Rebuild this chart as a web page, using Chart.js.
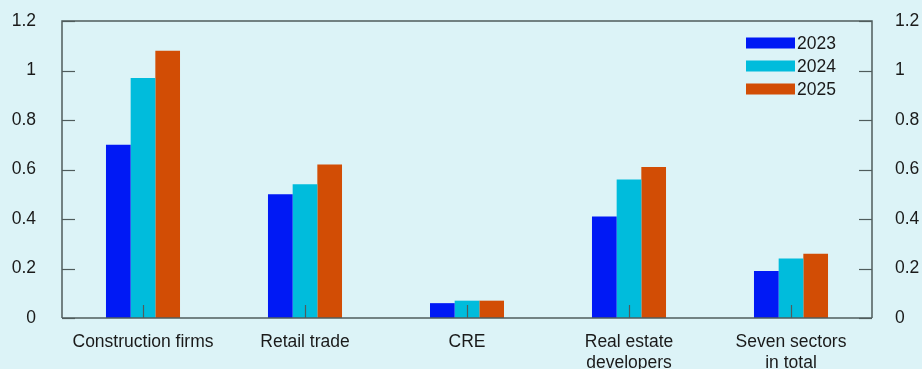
<!DOCTYPE html>
<html>
<head>
<meta charset="utf-8">
<script src="https://cdn.jsdelivr.net/npm/chart.js@4/dist/chart.umd.min.js"></script>
<style>
html,body{margin:0;padding:0;background:#dcf3f7;}
#wrap{width:922px;height:369px;}
</style>
</head>
<body>
<div id="wrap"><canvas id="c" width="922" height="369"></canvas></div>
<script>
const categories = [["Construction firms"], ["Retail trade"], ["CRE"], ["Real estate", "developers"], ["Seven sectors", "in total"]];
const seriesNames = ["2023", "2024", "2025"];
const values2023 = [0.70, 0.50, 0.06, 0.41, 0.19];
const values2024 = [0.97, 0.54, 0.07, 0.56, 0.24];
const values2025 = [1.08, 0.62, 0.07, 0.61, 0.26];
const yTickLabels = ["0", "0.2", "0.4", "0.6", "0.8", "1", "1.2"];

const colors = ["#0019f5", "#00bcdc", "#d24d05"];
const axisColor = "#4f5c5c";
const textColor = "#1a1a1a";
const FONT = "'Liberation Sans', Arial, sans-serif";
const FS = 17.5;

const fmt = (v) => {
  const i = Math.round(v / 0.2);
  return yTickLabels[i] !== undefined ? yTickLabels[i] : String(v);
};

const decor = {
  id: 'decor',
  beforeDraw(chart) {
    const ctx = chart.ctx;
    ctx.save();
    ctx.fillStyle = '#dcf3f7';
    ctx.fillRect(0, 0, chart.width, chart.height);
    ctx.restore();
  },
  afterDatasetsDraw(chart) {
    const ctx = chart.ctx;
    const a = chart.chartArea;
    const y = chart.scales.y, x = chart.scales.x;
    ctx.save();
    ctx.strokeStyle = axisColor;
    ctx.lineWidth = 1.5;
    ctx.beginPath();
    ctx.moveTo(a.left, a.bottom); ctx.lineTo(a.left, a.top); ctx.lineTo(a.right, a.top); ctx.lineTo(a.right, a.bottom);
    ctx.stroke();
    ctx.beginPath();
    ctx.moveTo(a.left, a.bottom); ctx.lineTo(a.right, a.bottom);
    ctx.stroke();
    ctx.lineWidth = 1.2;
    y.ticks.forEach(t => {
      const py = Math.round(y.getPixelForValue(t.value)) + 0.5;
      ctx.beginPath(); ctx.moveTo(a.left, py); ctx.lineTo(a.left + 13, py); ctx.stroke();
      ctx.beginPath(); ctx.moveTo(a.right - 13, py); ctx.lineTo(a.right, py); ctx.stroke();
    });
    x.ticks.forEach((t, i) => {
      const px = Math.round(x.getPixelForTick(i)) + 0.5;
      ctx.beginPath(); ctx.moveTo(px, a.bottom); ctx.lineTo(px, a.bottom - 13); ctx.stroke();
    });
    ctx.font = FS + "px " + FONT;
    ctx.textBaseline = 'middle';
    chart.data.datasets.forEach((ds, i) => {
      const cy = 43 + i * 23;
      ctx.fillStyle = ds.backgroundColor;
      ctx.fillRect(746, cy - 5.5, 49, 11);
      ctx.fillStyle = textColor;
      ctx.fillText(ds.label, 797, cy + 1);
    });
    ctx.restore();
  }
};

const fitY = (w) => (s) => { s.width = w; s.paddingTop = 0; s.paddingBottom = 0; };

new Chart(document.getElementById('c'), {
  type: 'bar',
  data: {
    labels: categories,
    datasets: [
      { label: seriesNames[0], data: values2023, backgroundColor: colors[0] },
      { label: seriesNames[1], data: values2024, backgroundColor: colors[1] },
      { label: seriesNames[2], data: values2025, backgroundColor: colors[2] }
    ]
  },
  options: {
    responsive: false,
    animation: false,
    devicePixelRatio: 1,
    datasets: { bar: { barPercentage: 1, categoryPercentage: 0.457, borderWidth: 0 } },
    layout: { padding: { top: 21, left: 0, right: 0, bottom: 0 } },
    plugins: { legend: { display: false }, tooltip: { enabled: false } },
    scales: {
      x: {
        grid: { display: false, drawTicks: false },
        border: { display: false },
        ticks: { color: textColor, font: { family: FONT, size: FS, lineHeight: 1.22 }, padding: 13, maxRotation: 0, autoSkip: false },
        afterFit: s => { s.height = 51; s.paddingLeft = 0; s.paddingRight = 0; }
      },
      y: {
        position: 'left',
        min: 0, max: 1.2,
        grid: { display: false, drawTicks: false },
        border: { display: false },
        ticks: { stepSize: 0.2, color: textColor, font: { family: FONT, size: FS }, padding: 26, callback: v => fmt(v) },
        afterFit: fitY(62)
      },
      y2: {
        position: 'right',
        min: 0, max: 1.2,
        grid: { display: false, drawTicks: false },
        border: { display: false },
        ticks: { stepSize: 0.2, color: textColor, font: { family: FONT, size: FS }, padding: 23, callback: v => fmt(v) },
        afterFit: fitY(50)
      }
    }
  },
  plugins: [decor]
});
</script>
</body>
</html>
